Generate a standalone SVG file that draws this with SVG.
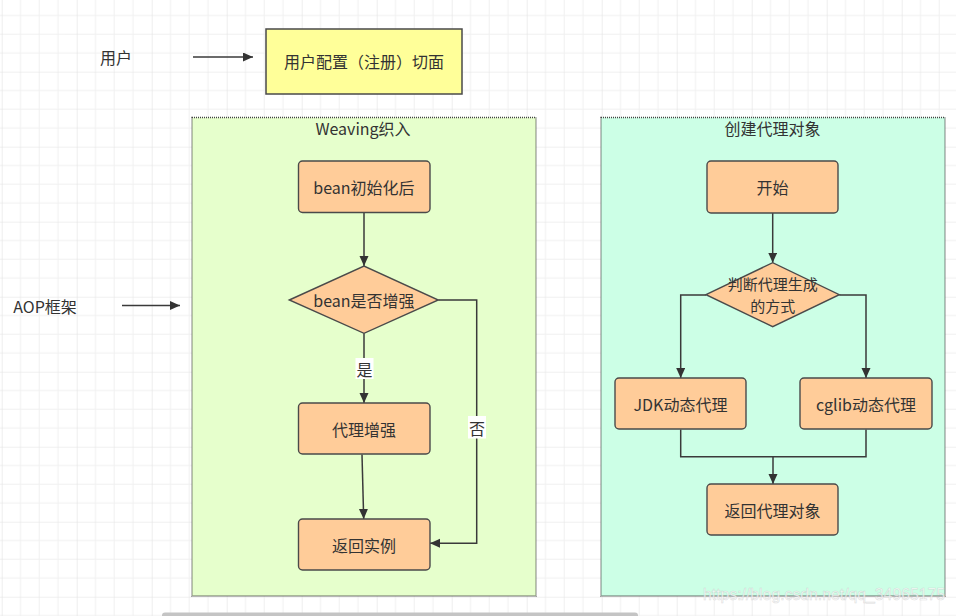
<svg xmlns="http://www.w3.org/2000/svg" width="956" height="616" viewBox="0 0 956 616">
<style>
.t{font-family:"Noto Sans CJK SC","Liberation Sans",sans-serif;font-size:16px;fill:#333;text-anchor:middle;dominant-baseline:central}
.s{font-size:15px}
.box{fill:#ffcc99;stroke:#4a4a4a;stroke-width:1.4}
.grp{stroke:#444;stroke-width:1.3;stroke-dasharray:1 1}
.ln{fill:none;stroke:#3a3a3a;stroke-width:1.5}
.lbl{fill:#fff}
</style>
<defs>
<pattern id="grid" patternUnits="userSpaceOnUse" x="1.7" y="-3.3" width="75" height="75">
<path d="M18.75,0V75M37.5,0V75M56.25,0V75M0,18.75H75M0,37.5H75M0,56.25H75" stroke="#f0f0f0" stroke-width="1" fill="none"/>
<path d="M0,0V75M0,0H75" stroke="#e2e2e2" stroke-width="1.2" fill="none"/>
</pattern>
<marker id="arr" markerUnits="userSpaceOnUse" markerWidth="12" markerHeight="10" refX="10" refY="4.5" orient="auto">
<path d="M0,0 L10,4.5 L0,9 Z" fill="#333"/>
</marker>
</defs>
<rect width="956" height="616" fill="#fff"/>
<rect width="956" height="616" fill="url(#grid)"/>

<g id="group-weaving">
<rect class="grp" x="192" y="117.5" width="344" height="478.5" fill="#e6ffcc"/>
<text class="t" x="363" y="128">Weaving织入</text>
</g>
<g id="group-proxy">
<rect class="grp" x="601" y="117.5" width="344" height="478.5" fill="#ccffe6"/>
<text class="t" x="772.5" y="128">创建代理对象</text>
</g>

<g id="connectors">
<path class="ln" d="M193,57 H253" marker-end="url(#arr)"/>
<path class="ln" d="M122,305.5 H180" marker-end="url(#arr)"/>
<path class="ln" d="M364,213 V266" marker-end="url(#arr)"/>
<path class="ln" d="M364,333.3 V403" marker-end="url(#arr)"/>
<rect class="lbl" x="355.5" y="358" width="18" height="21"/>
<text class="t" x="364.5" y="368.5">是</text>
<path class="ln" d="M362,454.5 L363.7,519" marker-end="url(#arr)"/>
<path class="ln" d="M438.3,300 H476.7 V543.3 H430" marker-end="url(#arr)"/>
<rect class="lbl" x="468" y="416" width="18" height="22.5"/>
<text class="t" x="477" y="427.5">否</text>
<path class="ln" d="M772.7,213 V262.7" marker-end="url(#arr)"/>
<path class="ln" d="M706,295 H680.7 V378" marker-end="url(#arr)"/>
<path class="ln" d="M839.3,295 H866 V378" marker-end="url(#arr)"/>
<path class="ln" d="M680.7,429.5 V456.7 H866 V429.5"/>
<path class="ln" d="M773,456.7 V484" marker-end="url(#arr)"/>
</g>

<g id="user-label"><text class="t" x="116" y="56.5">用户</text></g>
<g id="aop-label"><text class="t" x="45" y="305.5">AOP框架</text></g>
<g id="user-config">
<rect x="266" y="29" width="196" height="65" fill="#ffff99" stroke="#4a4a4a" stroke-width="1.5"/>
<text class="t" x="364" y="61">用户配置（注册）切面</text>
</g>
<g id="bean-init">
<rect class="box" x="298.5" y="161" width="131.5" height="51.5" rx="4"/>
<text class="t" x="364" y="186.5">bean初始化后</text>
</g>
<g id="bean-enhance">
<polygon class="box" points="289.3,300 364,266 438.3,300 364,333.3"/>
<text class="t" x="364" y="300">bean是否增强</text>
</g>
<g id="proxy-enhance">
<rect class="box" x="298.5" y="403" width="131.5" height="51" rx="4"/>
<text class="t" x="364" y="428.5">代理增强</text>
</g>
<g id="return-instance">
<rect class="box" x="298.5" y="519" width="131.5" height="51" rx="4"/>
<text class="t" x="364" y="544.5">返回实例</text>
</g>
<g id="start">
<rect class="box" x="707" y="161" width="131" height="52" rx="4"/>
<text class="t" x="772.5" y="187">开始</text>
</g>
<g id="decide">
<polygon class="box" points="706,294.7 772.7,262.7 839.3,294.7 772.7,326.7"/>
<text class="t s" x="772.7" y="283">判断代理生成</text>
<text class="t s" x="772.7" y="305">的方式</text>
</g>
<g id="jdk">
<rect class="box" x="615" y="378" width="131" height="51" rx="4"/>
<text class="t" x="680.5" y="403.5">JDK动态代理</text>
</g>
<g id="cglib">
<rect class="box" x="800" y="378" width="132" height="51" rx="4"/>
<text class="t" x="866" y="403.5">cglib动态代理</text>
</g>
<g id="return-proxy">
<rect class="box" x="707" y="484" width="131" height="51" rx="4"/>
<text class="t" x="772.5" y="509.5">返回代理对象</text>
</g>

<rect x="162" y="612.5" width="476" height="6" rx="3" fill="#c4c4c4"/>
<text x="703" y="600" font-family="Liberation Sans, sans-serif" font-size="16" fill="#ffffff" fill-opacity="0.75" stroke="#bbbbbb" stroke-opacity="0.5" stroke-width="0.6" textLength="242" lengthAdjust="spacingAndGlyphs">https://blog.csdn.net/qq_34965175</text>
</svg>
